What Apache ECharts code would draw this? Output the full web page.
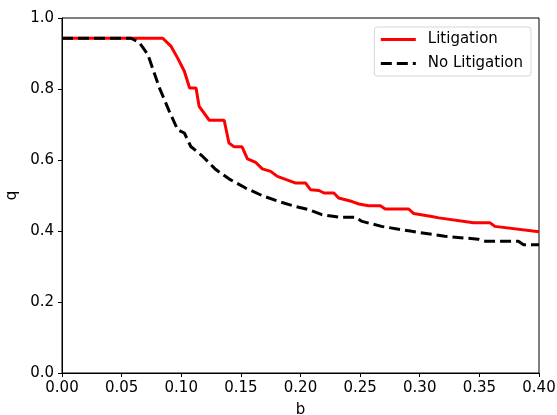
<!DOCTYPE html>
<html>
<head>
<meta charset="utf-8">
<script src="https://cdn.jsdelivr.net/npm/echarts@6/dist/echarts.min.js"></script>
<style>
  html, body { margin: 0; padding: 0; background: #fff; }
  #chart { width: 557px; height: 415px; }
</style>
</head>
<body>
<div id="chart"></div>
<script>
// values
const litB = [0, 0.0845, 0.0915, 0.097, 0.1026, 0.107, 0.1124, 0.115, 0.1235, 0.136, 0.140, 0.1444,
  0.151, 0.1555, 0.1625, 0.168, 0.175, 0.1806, 0.196, 0.2043, 0.2085, 0.2155, 0.2197, 0.228, 0.232,
  0.2433, 0.249, 0.257, 0.267, 0.271, 0.2907, 0.295, 0.310, 0.316, 0.345, 0.359, 0.363, 0.40];
const litQ = [0.943, 0.943, 0.92, 0.887, 0.85, 0.803, 0.803, 0.751, 0.712, 0.712, 0.648, 0.637,
  0.637, 0.603, 0.593, 0.575, 0.568, 0.554, 0.535, 0.535, 0.516, 0.514, 0.507, 0.507, 0.493,
  0.483, 0.476, 0.471, 0.471, 0.462, 0.462, 0.449, 0.441, 0.437, 0.423, 0.423, 0.413, 0.398];

const noLitB = [0, 0.058, 0.065, 0.072, 0.0817, 0.090, 0.097, 0.1026, 0.108, 0.118, 0.129, 0.140,
  0.154, 0.168, 0.182, 0.196, 0.207, 0.218, 0.232, 0.246, 0.2517, 0.268, 0.2935, 0.321, 0.349,
  0.355, 0.3827, 0.387, 0.40];
const noLitQ = [0.943, 0.943, 0.93, 0.897, 0.803, 0.737, 0.685, 0.676, 0.638, 0.610, 0.573, 0.547,
  0.521, 0.4995, 0.483, 0.469, 0.46, 0.446, 0.439, 0.439, 0.427, 0.413, 0.399, 0.385, 0.377,
  0.371, 0.371, 0.361, 0.361];

const seriesNames = ["Litigation", "No Litigation"];

const zip = (xs, ys) => xs.map((x, i) => [x, ys[i]]);

const chart = echarts.init(document.getElementById("chart"));

const font = "DejaVu Sans";
const fs = 15;

const option = {
  animation: false,
  textStyle: { fontFamily: font },
  grid: {
    left: 62,
    right: 18,
    top: 18,
    bottom: 42,
    outerBoundsMode: "none",
    containLabel: false,
    show: true,
    borderColor: "#000",
    borderWidth: 1,
  },
  legend: {
    right: 26,
    top: 27,
    orient: "vertical",
    backgroundColor: "#fff",
    borderColor: "#d6d6d6",
    borderWidth: 1,
    borderRadius: 3,
    padding: [5, 8, 5, 5],
    itemWidth: 35,
    itemHeight: 14,
    itemGap: 9,
    itemStyle: { opacity: 0 },
    lineStyle: { width: 3 },
    textStyle: { fontFamily: font, fontSize: fs, color: "#000", padding: [0, 0, 0, 7] },
    data: seriesNames,
  },
  xAxis: {
    type: "value",
    min: 0,
    max: 0.4,
    interval: 0.05,
    name: "b",
    nameLocation: "middle",
    nameGap: 30,
    nameTextStyle: { fontFamily: font, fontSize: fs, color: "#000" },
    axisLine: { lineStyle: { color: "#000", width: 1 } },
    axisTick: { length: 4, lineStyle: { color: "#000" } },
    axisLabel: {
      color: "#000",
      fontSize: fs,
      fontFamily: font,
      margin: 8,
      formatter: (v) => v.toFixed(2),
    },
    splitLine: { show: false },
  },
  yAxis: {
    type: "value",
    min: 0,
    max: 1.0,
    interval: 0.2,
    name: "q",
    nameLocation: "middle",
    nameGap: 37,
    nameTextStyle: { fontFamily: font, fontSize: fs, color: "#000" },
    axisLine: { show: true, lineStyle: { color: "#000", width: 1 } },
    axisTick: { show: true, length: 4, lineStyle: { color: "#000" } },
    axisLabel: {
      color: "#000",
      fontSize: fs,
      fontFamily: font,
      margin: 8,
      formatter: (v) => v.toFixed(1),
    },
    splitLine: { show: false },
  },
  series: [
    {
      name: seriesNames[0],
      type: "line",
      data: zip(litB, litQ),
      showSymbol: false,
      symbol: "none",
      lineStyle: { color: "#ff0000", width: 3 },
      itemStyle: { color: "#ff0000" },
    },
    {
      name: seriesNames[1],
      type: "line",
      data: zip(noLitB, noLitQ),
      showSymbol: false,
      symbol: "none",
      lineStyle: { color: "#000", width: 3, type: [11, 5] },
      itemStyle: { color: "#000" },
    },
  ],
};

chart.setOption(option);
</script>
</body>
</html>
